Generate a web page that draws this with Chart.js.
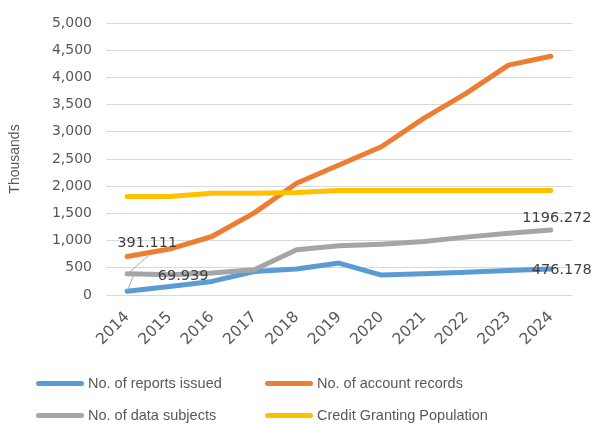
<!DOCTYPE html>
<html>
<head>
<meta charset="utf-8">
<script src="https://cdn.jsdelivr.net/npm/chart.js@4/dist/chart.umd.min.js"></script>
<style>
  html, body { margin: 0; padding: 0; background: #fff; }
  #wrap { position: relative; width: 595px; height: 424px; }
  #legend { position: absolute; left: 0; top: 0; width: 595px; height: 424px; pointer-events: none;
    font-family: "Liberation Sans", Arial, sans-serif; font-size: 14.5px; color: #595959; }
  .item { position: absolute; display: flex; align-items: center; white-space: nowrap; }
  .swatch { width: 48px; height: 5px; border-radius: 3px; margin-right: 4px; }
</style>
</head>
<body>
<div id="wrap">
  <canvas id="mainChart" width="595" height="424"></canvas>
  <div id="legend"></div>
</div>
<script>
// Years on the x axis
const years = ["2014", "2015", "2016", "2017", "2018", "2019", "2020", "2021", "2022", "2023", "2024"];

// Series values, in thousands
const reportsIssued = [69.939, 158, 250, 433, 477, 587, 367, 390, 420, 450, 476.178];
const accountRecords = [708, 844, 1075, 1510, 2054, 2389, 2725, 3246, 3705, 4225, 4390];
const dataSubjects = [391.111, 372, 403, 464, 831, 904, 935, 983, 1064, 1137, 1196.272];
const grantingPopulation = [1809, 1809, 1871, 1871, 1882, 1919, 1919, 1919, 1919, 1919, 1919];

const seriesNames = ["No. of reports issued", "No. of account records", "No. of data subjects", "Credit Granting Population"];
const seriesColors = ["#5B9BD5", "#ED7D31", "#A5A5A5", "#FFC000"];

// Value labels: dataset, point, offset of text centre, leader line (relative to point)
const valueLabels = [
  { ds: 2, i: 0, dx: 20, dy: -30, leader: [3, -2, 21, -18] },
  { ds: 0, i: 0, dx: 56, dy: -15, leader: [0, 0, 6, -15] },
  { ds: 2, i: 10, dx: 6, dy: -12 },
  { ds: 0, i: 10, dx: 11, dy: 1 },
];

const numFont = "'DejaVu Sans', sans-serif";

function makeSet(idx, data, order) {
  return {
    label: seriesNames[idx],
    data: data,
    borderColor: seriesColors[idx],
    backgroundColor: seriesColors[idx],
    borderWidth: 5,
    borderCapStyle: "round",
    borderJoinStyle: "round",
    pointRadius: 0,
    tension: 0,
    order: order,
  };
}

// draws the value labels with leader lines
const valueLabelPlugin = {
  id: "valueLabels",
  afterDatasetsDraw(chart) {
    const ctx = chart.ctx;
    ctx.save();
    valueLabels.forEach((lb) => {
      const pt = chart.getDatasetMeta(lb.ds).data[lb.i];
      const value = chart.data.datasets[lb.ds].data[lb.i];
      if (lb.leader) {
        ctx.strokeStyle = "#A6A6A6";
        ctx.lineWidth = 1;
        ctx.beginPath();
        ctx.moveTo(pt.x + lb.leader[0], pt.y + lb.leader[1]);
        ctx.lineTo(pt.x + lb.leader[2], pt.y + lb.leader[3]);
        ctx.stroke();
      }
      ctx.fillStyle = "#404040";
      ctx.font = "14.5px " + numFont;
      ctx.textAlign = "center";
      ctx.textBaseline = "middle";
      ctx.fillText(String(value), pt.x + lb.dx, pt.y + lb.dy);
    });
    ctx.restore();
  },
};

const config = {
  type: "line",
  data: {
    labels: years,
    datasets: [
      makeSet(0, reportsIssued, 4),
      makeSet(1, accountRecords, 3),
      makeSet(2, dataSubjects, 2),
      makeSet(3, grantingPopulation, 1),
    ],
  },
  options: {
    responsive: false,
    animation: false,
    layout: { padding: { top: 23, right: 23, left: 0, bottom: 0 } },
    plugins: {
      legend: { display: false },
      tooltip: { enabled: false },
    },
    scales: {
      x: {
        offset: true,
        grid: { display: false, drawTicks: false },
        border: { display: false },
        ticks: {
          minRotation: 45,
          maxRotation: 45,
          padding: 13,
          color: "#595959",
          font: { family: numFont, size: 15.5 },
        },
        afterFit: (s) => { s.height = 129; },
      },
      y: {
        min: 0,
        max: 5000,
        grid: { color: "#D9D9D9", lineWidth: 1, drawTicks: false },
        border: { display: false },
        ticks: {
          stepSize: 500,
          padding: 14,
          color: "#595959",
          font: { family: numFont, size: 14 },
        },
        title: {
          display: true,
          text: "Thousands",
          color: "#595959",
          padding: { top: 7, bottom: 0 },
          font: { family: "'Liberation Sans', Arial, sans-serif", size: 14 },
        },
        afterFit: (s) => { s.width = 106; },
      },
    },
  },
  plugins: [valueLabelPlugin],
};

const mainChart = new Chart(document.getElementById("mainChart"), config);

// Legend in two columns below the chart
const legendSpots = [[36, 383], [265, 383], [36, 415], [265, 415]];
const legendBox = document.getElementById("legend");
mainChart.data.datasets.forEach((ds, k) => {
  const item = document.createElement("div");
  item.className = "item";
  item.style.left = legendSpots[k][0] + "px";
  item.style.top = (legendSpots[k][1] - 9) + "px";
  item.style.height = "18px";
  const sw = document.createElement("span");
  sw.className = "swatch";
  sw.style.background = ds.borderColor;
  const txt = document.createElement("span");
  txt.textContent = ds.label;
  item.appendChild(sw);
  item.appendChild(txt);
  legendBox.appendChild(item);
});
</script>
</body>
</html>
